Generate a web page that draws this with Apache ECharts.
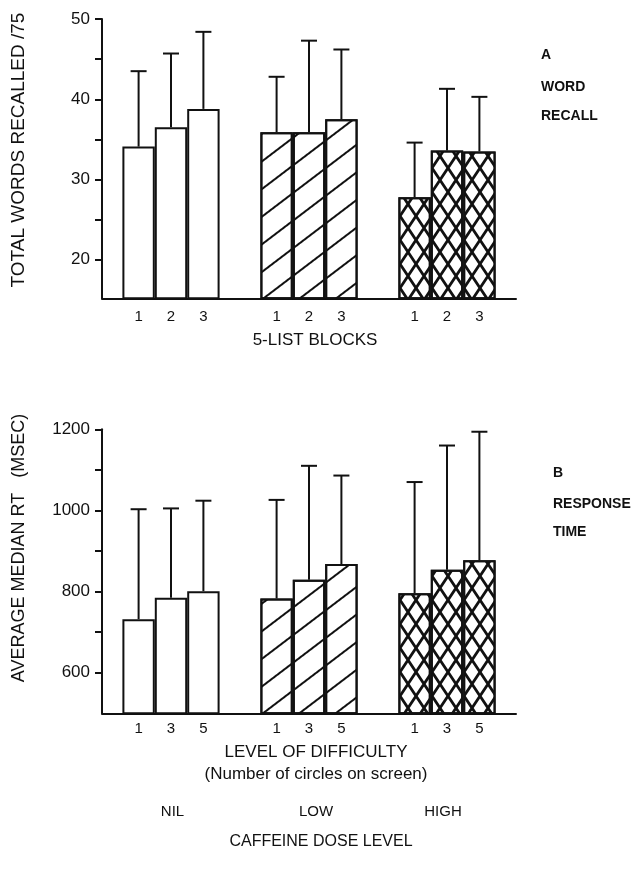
<!DOCTYPE html>
<html>
<head>
<meta charset="utf-8">
<script src="https://cdn.jsdelivr.net/npm/echarts@6/dist/echarts.min.js"></script>
<style>
html,body{margin:0;padding:0;background:#fff;}
#chart{width:643px;height:882px;}
</style>
</head>
<body>
<div id="chart"></div>
<script>
// ---- data ----
const doseGroups = ['NIL', 'LOW', 'HIGH'];
const blockNames = ['1', '2', '3'];
const levelNames = ['1', '3', '5'];

// Panel A: word recall (mean, upper error) per 5-list block, across NIL/LOW/HIGH
const recallMean1 = [34.1, 35.9, 27.8];
const recallMean2 = [36.5, 35.9, 33.6];
const recallMean3 = [38.8, 37.5, 33.5];
const recallUpper1 = [43.5, 42.8, 34.6];
const recallUpper2 = [45.7, 47.3, 41.3];
const recallUpper3 = [48.4, 46.2, 40.3];

// Panel B: response time (mean, upper error) per difficulty level
const rtMean1 = [732, 783, 796];
const rtMean3 = [785, 829, 854];
const rtMean5 = [801, 868, 877];
const rtUpper1 = [1003, 1026, 1070];
const rtUpper3 = [1005, 1110, 1160];
const rtUpper5 = [1024, 1086, 1194];

const recallTicks = [20, 25, 30, 35, 40, 45, 50];
const recallTickLabels = [20, 30, 40, 50];
const rtTicks = [600, 700, 800, 900, 1000, 1100, 1200];
const rtTickLabels = [600, 800, 1000, 1200];

// ---- styles ----
const INK = '#111';
const FONT = '"Liberation Sans", Arial, Helvetica, sans-serif';
const BAR_W = 32.4;

const hatch = {
  symbol: 'rect', symbolSize: 1,
  dashArrayX: [1, 0], dashArrayY: [2, 20],
  rotation: -0.65, color: INK
};
const cross = {
  symbol: 'path://M0,0 L1.7,0 L16,21.5 L16,24 L14.3,24 L0,2.5 Z M16,0 L16,2.5 L1.7,24 L0,24 L0,21.5 L14.3,0 Z',
  symbolSize: 1, symbolKeepAspect: false,
  dashArrayX: [16, 0], dashArrayY: [24, 0], color: INK
};
const patterns = [null, hatch, cross];

function barSeries(name, values, gridIdx) {
  return {
    type: 'bar', name: name, xAxisIndex: gridIdx, yAxisIndex: gridIdx,
    barWidth: BAR_W, barGap: '0%',
    itemStyle: { color: '#fff', borderColor: INK, borderWidth: 2 },
    label: {
      show: true, position: 'bottom', distance: gridIdx === 0 ? 10 : 7,
      formatter: name, color: INK, fontSize: 15, fontFamily: FONT
    },
    emphasis: { disabled: true },
    data: values.map((v, i) => patterns[i]
      ? { value: v, itemStyle: { decal: patterns[i] } }
      : { value: v })
  };
}

function errSeries(slot, means, uppers, gridIdx) {
  return {
    type: 'custom', xAxisIndex: gridIdx, yAxisIndex: gridIdx, z: 1,
    data: means.map((m, i) => [i, m, uppers[i]]),
    encode: { x: 0, y: [1, 2] },
    renderItem: function (params, api) {
      const base = api.coord([api.value(0), api.value(1)]);
      const top = api.coord([api.value(0), api.value(2)]);
      const x = base[0] + (slot - 1) * BAR_W;
      const st = { stroke: INK, lineWidth: 2 };
      return {
        type: 'group', children: [
          { type: 'line', shape: { x1: x, y1: base[1], x2: x, y2: top[1] }, style: st },
          { type: 'line', shape: { x1: x - 8, y1: top[1], x2: x + 8, y2: top[1] }, style: st }
        ]
      };
    }
  };
}

const axisLine = { show: true, lineStyle: { color: INK, width: 2 } };
const plain = v => String(v);
const doseStyle = { fontSize: 15, color: INK, fontFamily: FONT };

const chart = echarts.init(document.getElementById('chart'), null, { renderer: 'canvas' });
chart.setOption({
  backgroundColor: '#fff',
  animation: false,
  textStyle: { fontFamily: FONT, color: INK },
  grid: [
    { left: 102, top: 19, width: 414, height: 279.3 },
    { left: 102, top: 429.3, width: 414, height: 284 }
  ],
  xAxis: [
    {
      type: 'category', gridIndex: 0, data: doseGroups,
      axisLine: axisLine, axisTick: { show: false }, axisLabel: { show: false },
      name: '5-LIST BLOCKS', nameLocation: 'middle', nameGap: 34, nameMoveOverlap: false,
      nameTextStyle: { fontSize: 17, color: INK, fontFamily: FONT, padding: [0, 0, 0, 12] }
    },
    {
      type: 'category', gridIndex: 1, data: doseGroups,
      axisLine: axisLine, axisTick: { show: false },
      axisLabel: {
        show: true, margin: 91, fontSize: 15, color: INK, fontFamily: FONT,
        formatter: (v, i) => '{d' + i + '|' + v + '}',
        rich: {
          d0: Object.assign({ padding: [0, 0, 0, 3] }, doseStyle),
          d1: Object.assign({ padding: [0, 0, 0, 14] }, doseStyle),
          d2: Object.assign({ padding: [0, 8, 0, 0] }, doseStyle)
        }
      },
      name: 'LEVEL OF DIFFICULTY\n(Number of circles on screen)', nameLocation: 'middle', nameGap: 28,
      nameMoveOverlap: false,
      nameTextStyle: { fontSize: 17, lineHeight: 21.7, color: INK, fontFamily: FONT, padding: [0, 0, 0, 14] }
    }
  ],
  yAxis: [
    {
      type: 'value', gridIndex: 0, min: 15.2, max: 50,
      axisLine: axisLine, splitLine: { show: false },
      axisTick: { show: true, length: 7, lineStyle: { color: INK, width: 2 }, customValues: recallTicks },
      axisLabel: { margin: 12, fontSize: 17, color: INK, fontFamily: FONT, customValues: recallTickLabels, formatter: plain }
    },
    {
      type: 'value', gridIndex: 1, min: 500, max: 1200,
      axisLine: axisLine, splitLine: { show: false },
      axisTick: { show: true, length: 7, lineStyle: { color: INK, width: 2 }, customValues: rtTicks },
      axisLabel: { margin: 12, fontSize: 17, color: INK, fontFamily: FONT, customValues: rtTickLabels, formatter: plain }
    }
  ],
  graphic: [
    { type: 'text', x: 19, y: 150, rotation: Math.PI / 2,
      style: { text: 'TOTAL WORDS RECALLED /75', font: '19px ' + FONT, fill: INK, textAlign: 'center', textVerticalAlign: 'middle' } },
    { type: 'text', x: 19, y: 548, rotation: Math.PI / 2,
      style: { text: 'AVERAGE MEDIAN RT   (MSEC)', font: '18px ' + FONT, fill: INK, textAlign: 'center', textVerticalAlign: 'middle' } },
    { type: 'text', x: 541, y: 55, style: { text: 'A', font: 'bold 14px ' + FONT, fill: INK, textVerticalAlign: 'middle' } },
    { type: 'text', x: 541, y: 87, style: { text: 'WORD', font: 'bold 14px ' + FONT, fill: INK, textVerticalAlign: 'middle' } },
    { type: 'text', x: 541, y: 116, style: { text: 'RECALL', font: 'bold 14px ' + FONT, fill: INK, textVerticalAlign: 'middle' } },
    { type: 'text', x: 553, y: 473, style: { text: 'B', font: 'bold 14px ' + FONT, fill: INK, textVerticalAlign: 'middle' } },
    { type: 'text', x: 553, y: 504, style: { text: 'RESPONSE', font: 'bold 14px ' + FONT, fill: INK, textVerticalAlign: 'middle' } },
    { type: 'text', x: 553, y: 532, style: { text: 'TIME', font: 'bold 14px ' + FONT, fill: INK, textVerticalAlign: 'middle' } },
    { type: 'text', x: 321, y: 842, style: { text: 'CAFFEINE DOSE LEVEL', font: '16px ' + FONT, fill: INK, textAlign: 'center', textVerticalAlign: 'middle' } }
  ],
  series: [
    barSeries(blockNames[0], recallMean1, 0),
    barSeries(blockNames[1], recallMean2, 0),
    barSeries(blockNames[2], recallMean3, 0),
    errSeries(0, recallMean1, recallUpper1, 0),
    errSeries(1, recallMean2, recallUpper2, 0),
    errSeries(2, recallMean3, recallUpper3, 0),
    barSeries(levelNames[0], rtMean1, 1),
    barSeries(levelNames[1], rtMean3, 1),
    barSeries(levelNames[2], rtMean5, 1),
    errSeries(0, rtMean1, rtUpper1, 1),
    errSeries(1, rtMean3, rtUpper3, 1),
    errSeries(2, rtMean5, rtUpper5, 1)
  ]
});
</script>
</body>
</html>
